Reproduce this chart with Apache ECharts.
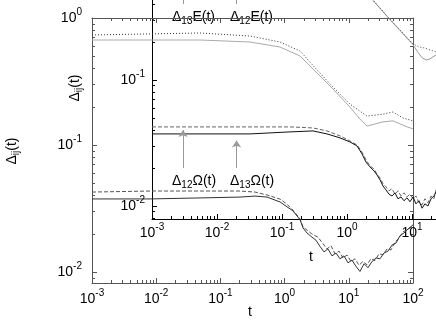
<!DOCTYPE html>
<html>
<head>
<meta charset="utf-8">
<script src="https://cdn.jsdelivr.net/npm/echarts@6.0.0/dist/echarts.min.js"></script>
<style>
  html, body { margin: 0; padding: 0; background: #fff; }
  #chart { width: 436px; height: 327px; }
</style>
</head>
<body>
<div id="chart"></div>
<script>
// ---- main plot data: [t, value] ----
const mainE13 = [[0.001, 0.735], [0.0481, 0.762], [0.289, 0.721], [0.848, 0.647], [1.74, 0.550], [3.20, 0.390],
  [5.68, 0.286], [10.4, 0.210], [19.2, 0.169], [34.1, 0.175], [48.8, 0.182], [69.8, 0.163], [100, 0.155]];
const mainE12 = [[0.001, 0.671], [0.0481, 0.671], [0.289, 0.647], [0.848, 0.591], [1.74, 0.502], [3.20, 0.369],
  [5.68, 0.276], [10.4, 0.199], [14.9, 0.160], [19.2, 0.141], [34.1, 0.152], [48.8, 0.155], [80.7, 0.139], [100, 0.134]];
const mainW13 = [[0.001, 0.0426], [0.008, 0.0434], [0.0481, 0.0434], [0.2018, 0.0434], [0.346, 0.0426], [0.532, 0.0404],
  [0.848, 0.0375], [1.09, 0.0342], [1.35, 0.0307], [1.74, 0.0262], [1.94, 0.0226], [2.23, 0.0214], [2.67, 0.0199],
  [3.31, 0.0188], [3.96, 0.0167], [4.57, 0.0152], [5.28, 0.0161], [6.10, 0.0139], [7.03, 0.0146], [8.12, 0.0129],
  [9.38, 0.0136], [10.8, 0.0121], [12.5, 0.0127], [14.4, 0.0113], [16.6, 0.0121], [19.2, 0.0114], [22.2, 0.0127],
  [25.6, 0.0123], [29.5, 0.0139], [34.1, 0.0137], [39.4, 0.0152], [45.4, 0.0149], [52.5, 0.0172], [60.5, 0.0185],
  [69.8, 0.0207], [80.7, 0.0214], [89.8, 0.0222], [100, 0.0232]];
const mainW12 = [[0.001, 0.0376], [0.008, 0.0376], [0.0481, 0.0383], [0.2018, 0.0389], [0.346, 0.0396], [0.532, 0.0389],
  [0.848, 0.0356], [1.09, 0.0326], [1.35, 0.0303], [1.74, 0.0258], [1.94, 0.0222], [2.23, 0.0203], [2.67, 0.0188],
  [3.08, 0.0178], [3.56, 0.0159], [4.11, 0.0144], [4.74, 0.0152], [5.47, 0.0134], [6.32, 0.0141], [7.29, 0.0127],
  [8.42, 0.0134], [9.72, 0.0118], [11.2, 0.0124], [12.9, 0.0111], [14.9, 0.0101], [17.3, 0.0116], [19.9, 0.0108],
  [23.0, 0.0121], [26.5, 0.0129], [30.6, 0.0127], [35.3, 0.0141], [40.8, 0.0146], [47.1, 0.0163], [54.4, 0.0169],
  [62.8, 0.0193], [72.4, 0.0203], [83.6, 0.0218], [100, 0.0235]];

// ---- inset data ----
const insetE13 = [[0.001, 0.73], [0.3, 0.71], [1.0, 0.64], [1.6, 0.55], [2.51, 0.431], [4.12, 0.322], [6.53, 0.249],
  [10.4, 0.193], [12.8, 0.183], [15.8, 0.179], [18.9, 0.173], [23.4, 0.167]];
const insetE12 = [[0.001, 0.70], [0.3, 0.68], [1.0, 0.62], [1.6, 0.54], [2.51, 0.428], [4.12, 0.320], [6.53, 0.247],
  [10.4, 0.190], [12.2, 0.167], [14.3, 0.150], [16.5, 0.144], [18.9, 0.147], [23.4, 0.158]];
const insetW13 = [[0.001, 0.0424], [0.00547, 0.0424], [0.0322, 0.0424], [0.133, 0.0424], [0.300, 0.0416], [0.492, 0.0394],
  [0.780, 0.0360], [1.11, 0.0328], [1.43, 0.0305], [1.70, 0.0268], [1.96, 0.0232], [2.26, 0.0208], [2.60, 0.0197],
  [2.90, 0.0179], [3.22, 0.0167], [3.58, 0.0150], [3.98, 0.0142], [4.43, 0.0132], [4.92, 0.0137], [5.47, 0.0124],
  [6.09, 0.0132], [6.77, 0.0120], [7.53, 0.0127], [8.37, 0.0118], [9.31, 0.0124], [10.4, 0.0114], [11.5, 0.0120],
  [12.8, 0.0106], [14.3, 0.0102], [15.8, 0.0114], [17.6, 0.0106], [19.6, 0.0120], [21.8, 0.0114], [23.4, 0.0134]];
const insetW12 = [[0.001, 0.0373], [0.00547, 0.0373], [0.0322, 0.0373], [0.133, 0.0387], [0.300, 0.0394], [0.492, 0.0373],
  [0.780, 0.0347], [1.11, 0.0322], [1.43, 0.0299], [1.70, 0.0259], [1.96, 0.0223], [2.26, 0.0204], [2.60, 0.0190],
  [2.90, 0.0176], [3.22, 0.0161], [3.58, 0.0144], [3.98, 0.0134], [4.43, 0.0124], [4.92, 0.0120], [5.47, 0.0127],
  [6.09, 0.0114], [6.77, 0.0118], [7.53, 0.0110], [8.37, 0.0116], [9.31, 0.0108], [10.4, 0.0118], [11.5, 0.0104],
  [12.8, 0.0110], [14.3, 0.0096], [15.8, 0.0104], [17.6, 0.0100], [19.6, 0.0114], [21.8, 0.0120], [23.4, 0.0129]];

// arrows in inset coords: [t, from, to]
const omegaArrows = [[0.003, 0.02, 0.04], [0.02, 0.02, 0.033]];
const energyArrows = [[0.003, 0.40, 0.431], [0.02, 0.40, 0.431]];

// ticks
const mainXTicks = [1e-3, 1e-2, 1e-1, 1, 10, 100];
const mainYTicks = [0.01, 0.1, 1];
const insetXTicks = [1e-3, 1e-2, 1e-1, 1, 10];
const insetYTicks = [0.01, 0.1];

const mainX = [1e-3, 100];
const mainY = [0.00819, 1];
const insetX = [1e-3, 23.4];
const insetY = [0.00788, 0.431];

const FONT = '"Liberation Sans", Arial, Helvetica, sans-serif';

function minorTicks(lo, hi) {
  const out = [];
  for (let e = Math.floor(Math.log10(lo)); e <= Math.ceil(Math.log10(hi)); e++) {
    for (let k = 2; k <= 9; k++) {
      const v = k * Math.pow(10, e);
      if (v > lo * 1.0001 && v < hi * 0.9999) out.push(v);
    }
  }
  return out;
}

function decadeLabel(v) {
  const e = Math.round(Math.log10(v));
  if (Math.abs(Math.log10(v) - e) > 1e-6) return '';
  return '{b|10}{s|' + e + '}';
}

const labelRich = {
  b: { fontSize: 14, fontFamily: FONT, color: '#000' },
  s: { fontSize: 10, fontFamily: FONT, color: '#000', padding: [0, 0, 12, 0] }
};

function makeAxis(o) {
  return {
    type: 'log',
    gridIndex: o.grid,
    position: o.pos,
    min: o.range[0],
    max: o.range[1],
    silent: true,
    axisLine: { show: !!o.line, onZero: false, lineStyle: { color: o.color, width: 1 } },
    axisTick: { show: true, inside: true, length: o.len, customValues: o.ticks, lineStyle: { color: o.color, width: 1 } },
    axisLabel: o.labels
      ? { show: true, customValues: o.ticks, margin: o.margin, formatter: decadeLabel, rich: labelRich, color: '#000' }
      : { show: false },
    splitLine: { show: false },
    minorTick: { show: false },
    minorSplitLine: { show: false },
    axisPointer: { show: false }
  };
}

const MAINC = '#555';
const INC = '#000';

const xAxes = [
  makeAxis({ grid: 0, pos: 'bottom', range: mainX, ticks: mainXTicks, len: 5, line: true, labels: true, margin: 5, color: MAINC }),
  makeAxis({ grid: 0, pos: 'bottom', range: mainX, ticks: minorTicks(mainX[0], mainX[1]), len: 3, color: MAINC }),
  makeAxis({ grid: 0, pos: 'top', range: mainX, ticks: mainXTicks, len: 5, line: true, color: MAINC }),
  makeAxis({ grid: 0, pos: 'top', range: mainX, ticks: minorTicks(mainX[0], mainX[1]), len: 3, color: MAINC }),
  makeAxis({ grid: 1, pos: 'bottom', range: insetX, ticks: insetXTicks, len: 5, line: true, labels: true, margin: 3, color: INC }),
  makeAxis({ grid: 1, pos: 'bottom', range: insetX, ticks: minorTicks(insetX[0], insetX[1]), len: 3, color: INC })
];
const yAxes = [
  makeAxis({ grid: 0, pos: 'left', range: mainY, ticks: mainYTicks, len: 5, line: true, labels: true, margin: 10, color: MAINC }),
  makeAxis({ grid: 0, pos: 'left', range: mainY, ticks: minorTicks(mainY[0], mainY[1]), len: 3, color: MAINC }),
  makeAxis({ grid: 0, pos: 'right', range: mainY, ticks: mainYTicks, len: 5, line: true, color: MAINC }),
  makeAxis({ grid: 0, pos: 'right', range: mainY, ticks: minorTicks(mainY[0], mainY[1]), len: 3, color: MAINC }),
  makeAxis({ grid: 1, pos: 'left', range: insetY, ticks: insetYTicks, len: 5, line: true, labels: true, margin: 7, color: INC }),
  makeAxis({ grid: 1, pos: 'left', range: insetY, ticks: minorTicks(insetY[0], insetY[1]), len: 3, color: INC })
];

function line(name, data, xi, yi, color, type) {
  return {
    name: name,
    type: 'line',
    xAxisIndex: xi,
    yAxisIndex: yi,
    data: data,
    showSymbol: false,
    symbol: 'none',
    silent: true,
    clip: true,
    lineStyle: { color: color, width: 1, type: type },
    emphasis: { disabled: true }
  };
}

const arrowSeries = line('arrows', [], 4, 4, '#999', 'solid');
arrowSeries.markLine = {
  silent: true,
  animation: false,
  symbolSize: 7,
  label: { show: false },
  lineStyle: { color: '#999', width: 1, type: 'solid' },
  data: omegaArrows.map(a => [
    { coord: [a[0], a[1]], symbol: 'none' },
    { coord: [a[0], a[2]], symbol: 'arrow' }
  ]).concat(energyArrows.map(a => [
    { coord: [a[0], a[1]], symbol: 'none' },
    { coord: [a[0], a[2]], symbol: 'none' }
  ]))
};

const txtRich = {
  n: { fontSize: 14, fontFamily: FONT, color: '#000' },
  sub: { fontSize: 10, fontFamily: FONT, color: '#000', padding: [8, 0, 0, 0] }
};

function label(text, x, y, rot) {
  return {
    type: 'text',
    x: x,
    y: y,
    rotation: rot || 0,
    silent: true,
    style: {
      text: text,
      rich: txtRich,
      align: rot ? 'center' : 'left',
      verticalAlign: 'middle',
      fill: '#000',
      font: '14px ' + FONT
    }
  };
}

const option = {
  animation: false,
  backgroundColor: '#fff',
  textStyle: { fontFamily: FONT },
  grid: [
    { left: 92, top: 18, width: 321, height: 265, outerBoundsMode: 'none' },
    { left: 152, top: 0, width: 284, height: 219, outerBoundsMode: 'none' }
  ],
  xAxis: xAxes,
  yAxis: yAxes,
  series: [
    line('Δ12E(t)', mainE12, 0, 0, '#aaa', 'solid'),
    line('Δ13E(t)', mainE13, 0, 0, '#333', [1, 2]),
    line('Δ13Ω(t)', mainW13, 0, 0, '#555', [4, 2]),
    line('Δ12Ω(t)', mainW12, 0, 0, '#333', 'solid'),
    line('inset Δ12E(t)', insetE12, 4, 4, '#999', 'solid'),
    line('inset Δ13E(t)', insetE13, 4, 4, '#444', [1, 2]),
    line('inset Δ13Ω(t)', insetW13, 4, 4, '#666', [4, 2]),
    line('inset Δ12Ω(t)', insetW12, 4, 4, '#111', 'solid'),
    arrowSeries
  ],
  graphic: [
    label('{n|Δ}{sub|13}{n|E(t)}', 172, 17),
    label('{n|Δ}{sub|12}{n|E(t)}', 230, 17),
    label('{n|Δ}{sub|12}{n|Ω(t)}', 172, 181),
    label('{n|Δ}{sub|13}{n|Ω(t)}', 230, 181),
    label('{n|Δ}{sub|ij}{n|(t)}', 12, 151, Math.PI / 2),
    label('{n|Δ}{sub|ij}{n|(t)}', 75, 88, Math.PI / 2),
    label('{n|t}', 248, 312),
    label('{n|t}', 309, 257)
  ]
};

const chart = echarts.init(document.getElementById('chart'), null, { renderer: 'canvas' });
chart.setOption(option);
</script>
</body>
</html>
